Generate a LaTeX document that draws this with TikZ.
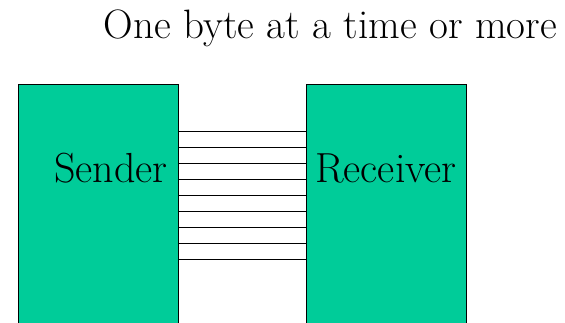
\documentclass[tikz,border=0pt]{standalone}
\usepackage{tikz}
\usetikzlibrary{positioning}
\definecolor{boxgreen}{RGB}{0, 204, 153}

\tikzset{
  unit/.style={draw=black, line width=0.7pt, fill=boxgreen, rectangle, anchor=north west, inner sep=0pt, outer sep=0pt, minimum width=4.02cm, minimum height=6.6cm},
  wire/.style={line width=0.9pt},
  txt/.style={anchor=base, inner sep=0pt, font=\fontsize{29.9}{36}\selectfont}
}

\begin{document}
\begin{tikzpicture}
\useasboundingbox (0,0) rectangle (14.125,-8.05);

\node [txt, font=\fontsize{29.2}{35}\selectfont] (title) at (8.26,-0.96) {One byte at a time or more};

\node [unit] (sender) at (0.45,-2.1) {};
\node [unit] (receiver) at (7.65,-2.1) {};

% parallel lines, one per bit
\foreach \k in {0,...,8}
  \draw [wire] ([yshift=-1.1875cm-\k*0.4cm]sender.north east) -- ([yshift=-1.1875cm-\k*0.4cm]receiver.north west);

\node [txt] (sendtext) at (2.775,-4.5675) {Sender};
\node [txt] (recvtext) at (9.65,-4.55) {Receiver};

\end{tikzpicture}
\end{document}
